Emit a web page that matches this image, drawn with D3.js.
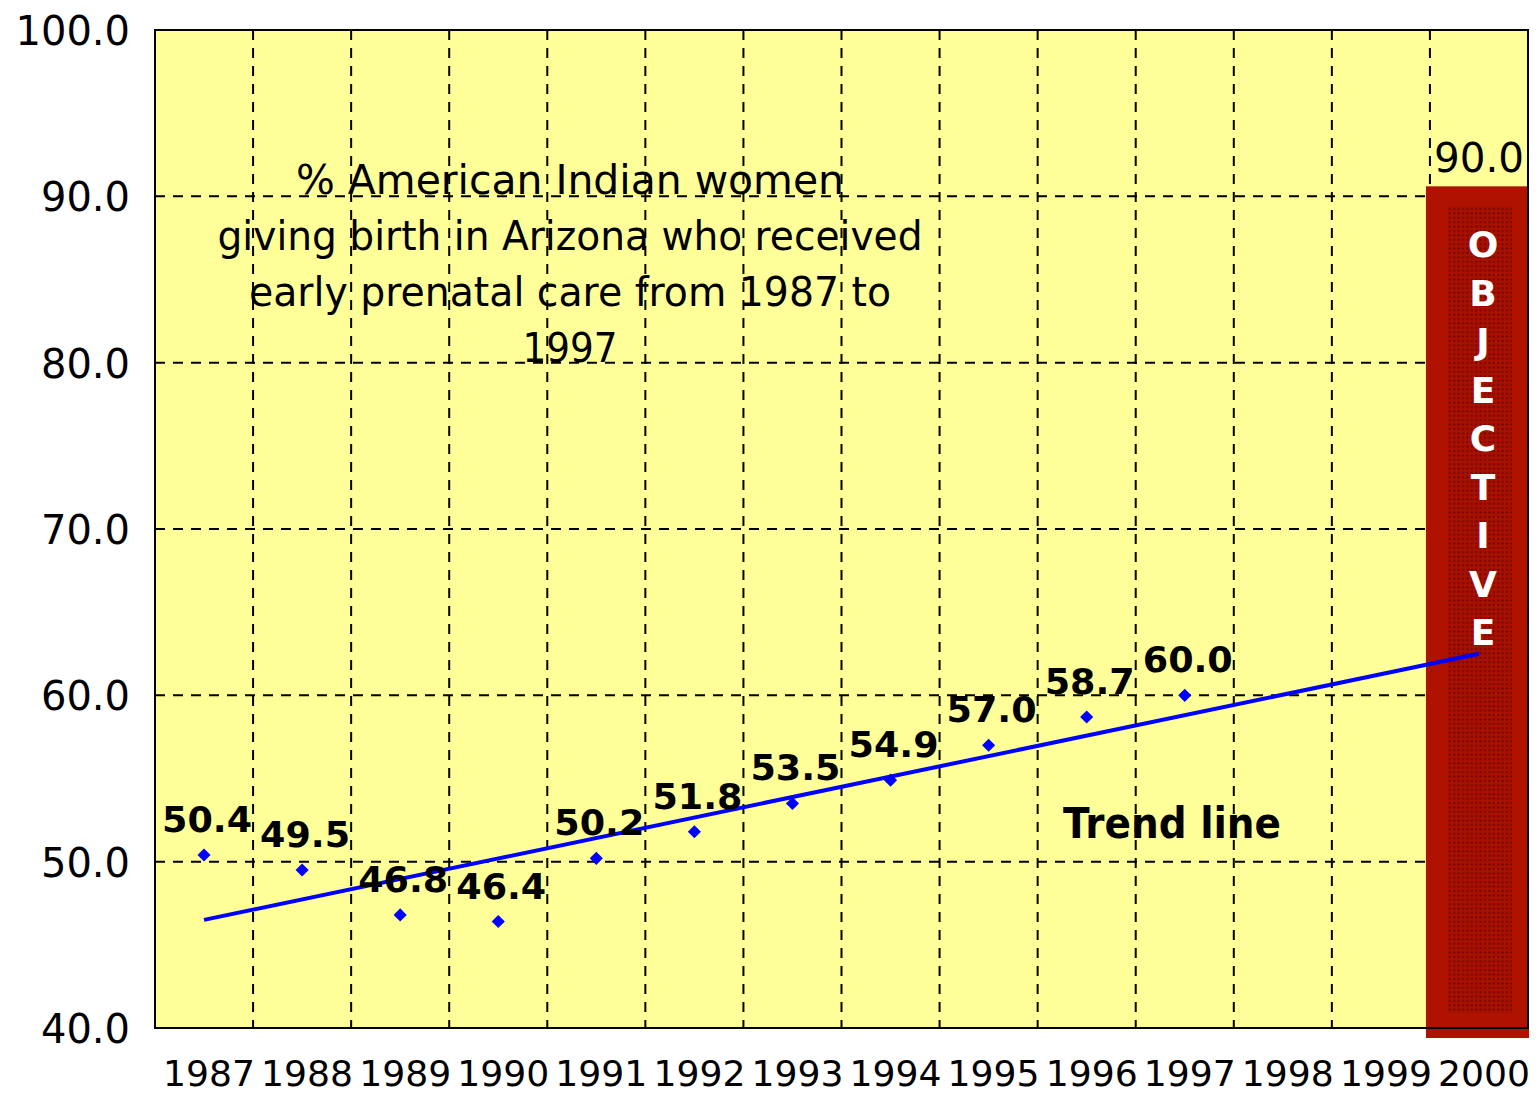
<!DOCTYPE html>
<html>
<head>
<meta charset="utf-8">
<script src="https://cdn.jsdelivr.net/npm/d3@7"></script>
<style>
  body { margin: 0; background: #ffffff; }
  svg text { font-family: 'DejaVu Sans', Verdana, sans-serif; }
</style>
</head>
<body>
<div id="chart"></div>
<script>
// data
const years = ['1987', '1988', '1989', '1990', '1991', '1992', '1993', '1994', '1995', '1996', '1997', '1998', '1999', '2000'];
const dataYears = ['1987', '1988', '1989', '1990', '1991', '1992', '1993', '1994', '1995', '1996', '1997'];
const percentValues = [50.4, 49.5, 46.8, 46.4, 50.2, 51.8, 53.5, 54.9, 57.0, 58.7, 60.0];
const trendYears = ['1987', '2000'];
const trendValues = [46.5, 62.5];
const objectiveYear = '2000';
const objectiveValue = 90.0;
const yTicks = [40, 50, 60, 70, 80, 90, 100];
const titleLines = ['% American Indian women', 'giving birth in Arizona who received', 'early prenatal care from 1987 to', '1997'];
const objectiveLetters = ['O', 'B', 'J', 'E', 'C', 'T', 'I', 'V', 'E'];

const width = 1539;
const height = 1096;
const plot = { left: 155, right: 1528, top: 30, bottom: 1028 };

const svg = d3.select('#chart').append('svg')
  .attr('width', width)
  .attr('height', height);

svg.append('rect').attr('width', width).attr('height', height).attr('fill', '#ffffff');

const defs = svg.append('defs');
const pat = defs.append('pattern')
  .attr('id', 'stipple')
  .attr('width', 4.4).attr('height', 4.4)
  .attr('patternUnits', 'userSpaceOnUse');
pat.append('rect').attr('width', 4.4).attr('height', 4.4).attr('fill', '#a81000');
pat.append('circle').attr('cx', 2.2).attr('cy', 2.2).attr('r', 1.1).attr('fill', '#6e0600');

const x = d3.scaleBand().domain(years).range([plot.left, plot.right]);
const y = d3.scaleLinear().domain([40, 100]).range([plot.bottom, plot.top]);
const cx = d => x(d) + x.bandwidth() / 2;

// plot background
svg.append('rect')
  .attr('x', plot.left).attr('y', plot.top)
  .attr('width', plot.right - plot.left).attr('height', plot.bottom - plot.top)
  .attr('fill', '#ffff99');

/* grid lines */
const grid = svg.append('g').attr('stroke', '#000').attr('stroke-width', 2).attr('stroke-dasharray', '10,8');
grid.selectAll('.vg').data(years.slice(1)).enter().append('line')
  .attr('x1', d => x(d)).attr('x2', d => x(d))
  .attr('y1', plot.top).attr('y2', plot.bottom);
grid.selectAll('.hg').data(yTicks.slice(1, -1)).enter().append('line')
  .attr('x1', plot.left).attr('x2', plot.right)
  .attr('y1', d => y(d)).attr('y2', d => y(d));

/* title */
const title = svg.append('text')
  .attr('text-anchor', 'middle')
  .attr('font-size', 40)
  .attr('fill', '#000');
titleLines.forEach((t, i) => {
  title.append('tspan')
    .attr('x', 570)
    .attr('y', 194 + i * 56)
    .attr('textLength', [548, 705, 642, 95][i])
    .attr('lengthAdjust', 'spacingAndGlyphs')
    .text(t);
});

/* objective bar */
const ob = svg.append('g');
ob.append('rect')
  .attr('x', x(objectiveYear) - 4)
  .attr('y', y(objectiveValue) - 10)
  .attr('width', x.bandwidth() + 5)
  .attr('height', y(40) - y(objectiveValue) + 20)
  .attr('fill', '#b01200');
ob.append('rect')
  .attr('x', x(objectiveYear) + 18)
  .attr('y', y(objectiveValue) + 10)
  .attr('width', x.bandwidth() - 34)
  .attr('height', y(40) - y(objectiveValue) - 25)
  .attr('fill', 'url(#stipple)');
ob.selectAll('.ol').data(objectiveLetters).enter().append('text')
  .attr('x', cx(objectiveYear) + 4)
  .attr('y', (d, i) => 257 + i * 48.5)
  .attr('text-anchor', 'middle')
  .attr('font-size', 36)
  .attr('font-weight', 'bold')
  .attr('fill', '#ffffff')
  .text(d => d);
ob.append('text')
  .attr('x', cx(objectiveYear))
  .attr('y', y(objectiveValue) - 24)
  .attr('text-anchor', 'middle')
  .attr('font-size', 40)
  .attr('textLength', 90)
  .attr('lengthAdjust', 'spacingAndGlyphs')
  .text(d3.format('.1f')(objectiveValue));

// plot border
svg.append('rect')
  .attr('x', plot.left).attr('y', plot.top)
  .attr('width', plot.right - plot.left).attr('height', plot.bottom - plot.top)
  .attr('fill', 'none').attr('stroke', '#000').attr('stroke-width', 2);

/* trend line */
const trend = trendYears.map((d, i) => ({ label: d, value: trendValues[i] }));
svg.append('path')
  .datum(trend)
  .attr('fill', 'none')
  .attr('stroke', '#0000ff')
  .attr('stroke-width', 4)
  .attr('d', d3.line().x(d => cx(d.label)).y(d => y(d.value)));

svg.append('text')
  .attr('x', 1172).attr('y', 838)
  .attr('text-anchor', 'middle')
  .attr('font-size', 42)
  .attr('font-weight', 'bold')
  .attr('textLength', 218)
  .attr('lengthAdjust', 'spacingAndGlyphs')
  .text('Trend line');

/* points and labels */
const points = dataYears.map((d, i) => ({ label: d, value: percentValues[i] }));
svg.selectAll('.pt').data(points).enter().append('path')
  .attr('d', d3.symbol().type(d3.symbolDiamond2).size(110))
  .attr('transform', d => 'translate(' + cx(d.label) + ',' + y(d.value) + ')')
  .attr('fill', '#0000ff');
svg.selectAll('.pl').data(points).enter().append('text')
  .attr('x', d => cx(d.label) + 3)
  .attr('y', d => y(d.value) - 23)
  .attr('text-anchor', 'middle')
  .attr('font-size', 36)
  .attr('font-weight', 'bold')
  .attr('textLength', 90)
  .attr('lengthAdjust', 'spacingAndGlyphs')
  .text(d => d3.format('.1f')(d.value));

/* axes */
const yAxis = svg.append('g').attr('transform', 'translate(' + plot.left + ',0)')
  .call(d3.axisLeft(y).tickValues(yTicks).tickSize(0).tickPadding(25).tickFormat(d3.format('.1f')));
yAxis.select('.domain').remove();
yAxis.selectAll('text')
  .attr('font-size', 40)
  .attr('font-family', "'DejaVu Sans', Verdana, sans-serif")
  .attr('fill', '#000')
  .attr('dy', '0.36em');

const xAxis = svg.append('g').attr('transform', 'translate(0,' + plot.bottom + ')')
  .call(d3.axisBottom(x).tickSize(0).tickPadding(32));
xAxis.select('.domain').remove();
xAxis.selectAll('text')
  .attr('font-size', 36)
  .attr('font-family', "'DejaVu Sans', Verdana, sans-serif")
  .attr('fill', '#000')
  .attr('dx', 5)
  .attr('textLength', 92)
  .attr('lengthAdjust', 'spacingAndGlyphs');
</script>
</body>
</html>
